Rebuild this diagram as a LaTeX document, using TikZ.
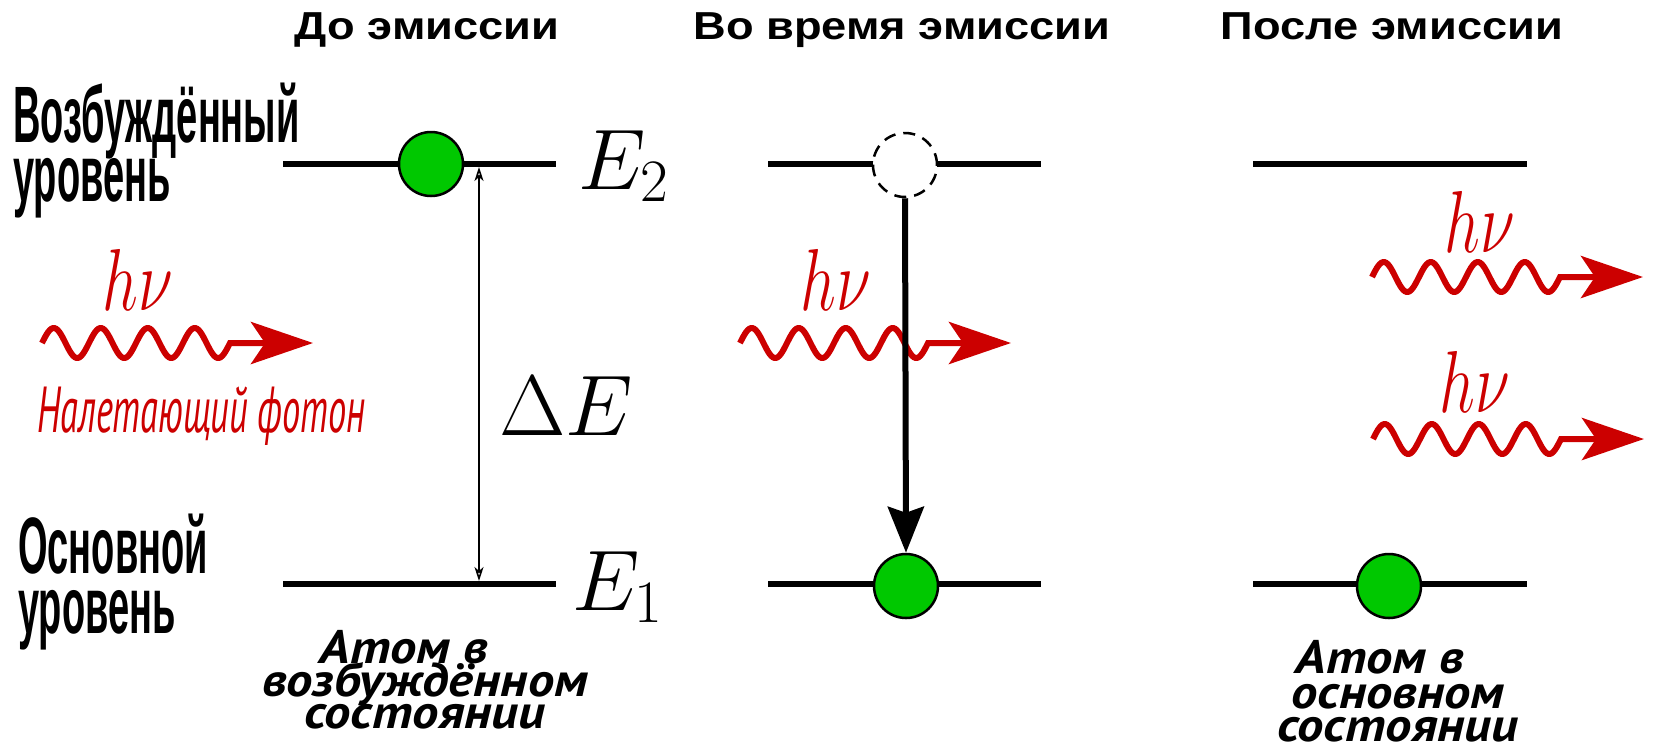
\RequirePackage{fix-cm}
\documentclass[tikz,border=0pt]{standalone}
\usepackage{fontspec}
\usepackage{graphicx}
\usetikzlibrary{arrows.meta}
\newfontfamily\ftitle{Liberation Sans}[FakeStretch=1.16]
\newfontfamily\flevel{Liberation Sans}[FakeStretch=0.475]
\newfontfamily\fphot{PT Sans}[FakeStretch=0.56]
\newfontfamily\fatom{PT Sans}[FakeStretch=1.12]
\definecolor{atomgreen}{RGB}{0,200,0}
\definecolor{photonred}{RGB}{204,0,0}
\newcommand\photonwave[1]{%
  \begin{scope}[shift={(#1)}]
    \draw[photon] plot[domain=0:188,samples=121,smooth] (\x,{-15*sin(7.6596*\x)}) -- (271,0);
  \end{scope}}
\newcommand\hnutext{\scalebox{0.72}[1]{$h\nu$}}
\begin{document}
\begin{tikzpicture}[x=1pt,y=-1pt,
  level/.style={line width=6pt},
  atom/.style={circle, draw=black, line width=2.5pt, fill=atomgreen, minimum size=64pt, inner sep=0pt},
  ghost/.style={circle, draw=black, dash pattern=on 12pt off 8pt, line width=2.5pt, fill=white, minimum size=64pt, inner sep=0pt},
  photon/.style={draw=photonred, line width=6pt, -{Stealth[length=62pt,width=42pt,inset=14pt]}},
  hnu/.style={text=photonred, font=\fontsize{88}{90}\selectfont, anchor=base, inner sep=0pt},
  mathlbl/.style={font=\fontsize{86}{90}\selectfont, anchor=base west, inner sep=0pt},
  title/.style={font=\ftitle\bfseries\fontsize{39}{40}\selectfont, anchor=base, inner sep=0pt},
  lvllbl/.style={font=\flevel\bfseries\fontsize{80}{56}\selectfont, anchor=base west, inner sep=0pt},
  photlbl/.style={font=\fphot\itshape\fontsize{65}{66}\selectfont, text=photonred, anchor=base west, inner sep=0pt},
  atomlbl/.style={font=\fatom\bfseries\itshape\fontsize{47}{40}\selectfont, anchor=base, inner sep=0pt},
  dearrow/.style={line width=1.6pt, {Stealth[open,length=14pt,width=9pt,inset=4pt]}-{Stealth[open,length=14pt,width=9pt,inset=4pt]}},
  transarrow/.style={line width=6pt, -{Stealth[length=46pt,width=36pt,inset=6pt]}}
]
\useasboundingbox (0,0) rectangle (1654,748);

% titles
\node[title] (t1) at (427,39) {До эмиссии};
\node[title] (t2) at (902,39) {Во время эмиссии};
\node[title] (t3) at (1392,39) {После эмиссии};

% level labels
\node[lvllbl] (ex1) at (13,142) {Возбуждённый};
\node[lvllbl] (ex2) at (13,201) {уровень};
\node[lvllbl] (gr1) at (18,573) {Основной};
\node[lvllbl] (gr2) at (18,633) {уровень};

% levels
\coordinate (la2) at (283,164); \coordinate (lb2) at (556,164);
\coordinate (la1) at (283,584); \coordinate (lb1) at (556,584);
\coordinate (ma2) at (768,164); \coordinate (mb2) at (1041,164);
\coordinate (ma1) at (768,584); \coordinate (mb1) at (1041,584);
\coordinate (ra2) at (1253,164); \coordinate (rb2) at (1527,164);
\coordinate (ra1) at (1253,584); \coordinate (rb1) at (1527,584);
\draw[level] (la2) -- (lb2);
\draw[level] (la1) -- (lb1);
\draw[level] (ma2) -- (mb2);
\draw[level] (ma1) -- (mb1);
\draw[level] (ra2) -- (rb2);
\draw[level] (ra1) -- (rb1);

% energy labels
\node[mathlbl] (e2) at (578,189) {$E_2$};
\node[mathlbl] (e1) at (572,610) {$E_1$};
\node[mathlbl] (de) at (499,435) {$\Delta E$};

% Delta E arrow
\coordinate (dEt) at (479,167);
\coordinate (dEb) at (479,581);
\draw[dearrow] (dEt) -- (dEb);

% photons
\coordinate (w1) at (42,343);
\coordinate (w2) at (740,343);
\coordinate (w3) at (1372,277);
\coordinate (w4) at (1373,439);
\photonwave{w1}
\photonwave{w2}
\photonwave{w3}
\photonwave{w4}
\node[hnu] (h1) at (138,310) {\hnutext};
\node[hnu] (h2) at (836,310) {\hnutext};
\node[hnu] (h3) at (1480,252) {\hnutext};
\node[hnu] (h4) at (1475,412) {\hnutext};
\node[photlbl] (inc) at (37,432) {Налетающий фотон};

% atoms
\node[atom] (a1) at (431,164) {};
\node[ghost] (gh) at (905,165) {};
\node[atom] (a2) at (906,586) {};
\node[atom] (a3) at (1389,586) {};
\draw[transarrow] (gh.south) -- (a2.north);

% bottom captions
\node[atomlbl] (c1) at (404,663) {Атом в};
\node[atomlbl] (c2) at (425,696) {возбуждённом};
\node[atomlbl] (c3) at (425,728) {состоянии};
\node[atomlbl] (d1) at (1380,673) {Атом в};
\node[atomlbl] (d2) at (1398,708) {основном};
\node[atomlbl] (d3) at (1398,741) {состоянии};
\end{tikzpicture}
\end{document}
